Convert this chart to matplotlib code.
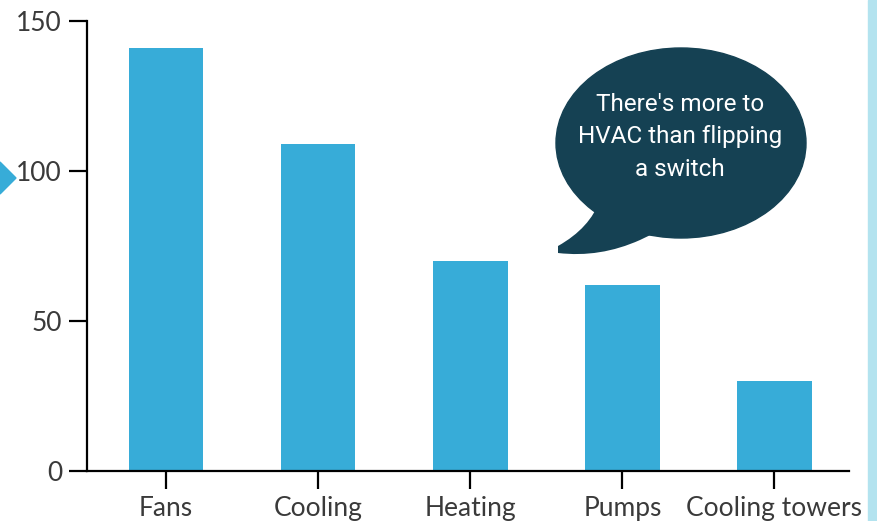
import matplotlib
matplotlib.use("Agg")
import matplotlib.pyplot as plt
from matplotlib.patches import Ellipse, PathPatch, Polygon, Rectangle
from matplotlib.path import Path

categories = ["Fans", "Cooling", "Heating", "Pumps", "Cooling towers"]
values = [141, 109, 70, 62, 30]
yticks = [0, 50, 100, 150]

bar_col = "#37acd8"
bubble_col = "#154153"
W, H = 877, 521

def fx(px):
    return px / W

def fy(py):
    return 1 - py / H

fig = plt.figure(figsize=(W / 100, H / 100), dpi=100)
ax = fig.add_axes([fx(87), fy(471), fx(849) - fx(87), fy(21) - fy(471)])

ax.bar(range(len(categories)), values, width=0.49, color=bar_col, zorder=2)
ax.set_xlim(-0.52, 4.49)
ax.set_ylim(0, 150)
ax.set_yticks(yticks)
ax.set_xticks(range(len(categories)))
ax.set_xticklabels(categories)

for s in ["top", "right"]:
    ax.spines[s].set_visible(False)
for s in ["left", "bottom"]:
    ax.spines[s].set_linewidth(1.6)
ax.tick_params(axis="both", length=13, width=1.6, direction="out",
               labelsize=19, labelcolor="#3a3a3a", pad=5)
for lab in ax.get_xticklabels() + ax.get_yticklabels():
    lab.set_family("Lato")

# decoration: right strip and left arrow
fig.patches.append(Rectangle((fx(868), 0), 1 - fx(868), 1, transform=fig.transFigure,
                             color="#b3e3ef", zorder=0))
fig.patches.append(Polygon([(0, fy(162)), (fx(16), fy(178)), (0, fy(194))],
                           closed=True, transform=fig.transFigure, color=bar_col))

# speech bubble
fig.patches.append(Ellipse((fx(681), fy(143)), fx(250), 190 / H,
                           transform=fig.transFigure, color=bubble_col, zorder=3))
verts = [(600, 200), (590, 228), (558, 246), (558, 253),
         (600, 258), (640, 240), (665, 228), (600, 200)]
codes = [Path.MOVETO, Path.CURVE3, Path.CURVE3, Path.LINETO,
         Path.CURVE3, Path.CURVE3, Path.LINETO, Path.CLOSEPOLY]
tail = Path([(fx(x), fy(y)) for x, y in verts], codes)
fig.patches.append(PathPatch(tail, transform=fig.transFigure, facecolor=bubble_col,
                             edgecolor="none", zorder=3))
fig.text(fx(680), fy(137), "There's more to\nHVAC than flipping\na switch",
         ha="center", va="center", color="white", fontsize=17.5, linespacing=1.55,
         family=["Liberation Sans Narrow", "Roboto"], zorder=4)

fig.savefig("out.png", dpi=100)
